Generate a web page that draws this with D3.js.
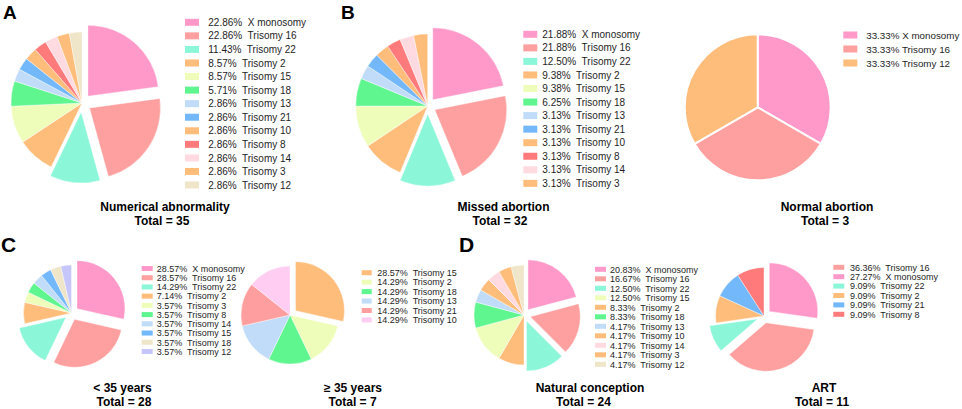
<!DOCTYPE html>
<html>
<head>
<meta charset="utf-8">
<script src="https://cdn.jsdelivr.net/npm/d3@7/dist/d3.min.js"></script>
<style>
  html, body { margin: 0; padding: 0; background: #fff; }
  svg { display: block; }
  text { font-family: 'Liberation Sans', Arial, Helvetica, sans-serif; }
</style>
</head>
<body>
<svg id="chart" width="962" height="409"></svg>
<script>
// ---------------- DATA (pie order, clockwise from 12 o'clock) ----------------
const numericalLabels = ["X monosomy","Trisomy 16","Trisomy 22","Trisomy 2","Trisomy 15","Trisomy 18","Trisomy 13","Trisomy 21","Trisomy 10","Trisomy 8","Trisomy 14","Trisomy 3","Trisomy 12"];
const numericalCounts = [8,8,4,3,3,2,1,1,1,1,1,1,1];
const numericalLegendOrder = [0,1,2,3,4,5,6,7,8,9,10,11,12];

const missedLabels = ["X monosomy","Trisomy 16","Trisomy 22","Trisomy 2","Trisomy 15","Trisomy 18","Trisomy 13","Trisomy 21","Trisomy 10","Trisomy 8","Trisomy 14","Trisomy 3"];
const missedCounts = [7,7,4,3,3,2,1,1,1,1,1,1];
const missedLegendOrder = [0,1,2,3,4,5,6,7,8,9,10,11];

const normalLabels = ["X monosomy","Trisomy 16","Trisomy 12"];
const normalCounts = [1,1,1];
const normalLegendOrder = [0,1,2];

const youngLabels = ["X monosomy","Trisomy 16","Trisomy 22","Trisomy 2","Trisomy 3","Trisomy 8","Trisomy 14","Trisomy 15","Trisomy 18","Trisomy 12"];
const youngCounts = [8,8,4,2,1,1,1,1,1,1];
const youngLegendOrder = [0,1,2,3,4,5,6,7,8,9];

const oldLabels = ["Trisomy 15","Trisomy 2","Trisomy 18","Trisomy 13","Trisomy 21","Trisomy 10"];
const oldCounts = [2,1,1,1,1,1];
const oldLegendOrder = [0,1,2,3,4,5];

const naturalLabels = ["X monosomy","Trisomy 16","Trisomy 22","Trisomy 2","Trisomy 15","Trisomy 18","Trisomy 13","Trisomy 10","Trisomy 14","Trisomy 3","Trisomy 12"];
const naturalCounts = [5,4,3,2,3,2,1,1,1,1,1];
const naturalLegendOrder = [0,1,2,4,3,5,6,7,8,9,10];

const artLabels = ["X monosomy","Trisomy 16","Trisomy 22","Trisomy 2","Trisomy 21","Trisomy 8"];
const artCounts = [3,4,1,1,1,1];
const artLegendOrder = [1,0,2,3,4,5];

const panelTitles = ["Numerical abnormality","Missed abortion","Normal abortion","< 35 years","\u2265 35 years","Natural conception","ART"];
const panelLetters = ["A","B","C","D"];

// ---------------- STYLES ----------------
const C = {
  pink:"#ff99c9", salmon:"#ffa0a0", teal:"#8cf6d9", orange:"#ffbd7b", yellow:"#effdbb",
  green:"#5ff58f", lblue:"#c0dcf8", blue:"#72b8fb", red:"#ff7a7a", lpink:"#ffdae1",
  beige:"#efe5c8", lav:"#c6c6fb", mpink:"#ffccf2", salmon2:"#ff9e9e"
};
const numericalColors = [C.pink,C.salmon,C.teal,C.orange,C.yellow,C.green,C.lblue,C.blue,C.orange,C.red,C.lpink,C.orange,C.beige];
const missedColors = numericalColors.slice(0,12);
const normalColors = [C.pink,C.salmon,C.orange];
const youngColors = [C.pink,C.salmon,C.teal,C.orange,C.yellow,C.green,C.lblue,C.blue,C.beige,C.lav];
const oldColors = [C.orange,C.yellow,C.green,C.lblue,C.salmon2,C.mpink];
const naturalColors = [C.pink,C.salmon,C.teal,C.orange,C.yellow,C.green,C.lblue,C.orange,C.lpink,C.orange,C.beige];
const artColors = [C.pink,C.salmon,C.teal,C.orange,C.blue,C.red];

const panels = [
  {labels:numericalLabels, counts:numericalCounts, order:numericalLegendOrder, colors:numericalColors,
   cx:82, cy:103, r:71, off:9, nExplode:3, stroke:0.4,
   leg:{sx:185, y0:22.3, dy:13.56, sw:14, sh:7, tx:208.3, fs:10, sep:"  "},
   title:panelTitles[0], tcx:165, tcx2:162, ty:211, ty2:225},
  {labels:missedLabels, counts:missedCounts, order:missedLegendOrder, colors:missedColors,
   cx:427.7, cy:106, r:72, off:8, nExplode:3, stroke:0.4,
   leg:{sx:523.3, y0:34.3, dy:13.55, sw:14, sh:7, tx:542.3, fs:10, sep:"  "},
   title:panelTitles[1], tcx:503.5, tcx2:500, ty:211, ty2:225},
  {labels:normalLabels, counts:normalCounts, order:normalLegendOrder, colors:normalColors,
   cx:757.7, cy:107.3, r:73, off:0, nExplode:0, stroke:2,
   leg:{sx:843.3, y0:35, dy:14, sw:14, sh:7, tx:866.2, fs:9.8, sep:" "},
   title:panelTitles[2], tcx:827, tcx2:825, ty:211, ty2:225},
  {labels:youngLabels, counts:youngCounts, order:youngLegendOrder, colors:youngColors,
   cx:71.5, cy:313, r:48, off:7, nExplode:3, stroke:0.4,
   leg:{sx:141.7, y0:268.5, dy:9.22, sw:11, sh:5, tx:156.7, fs:9, sep:"  "},
   title:panelTitles[3], tcx:122.5, tcx2:124, ty:392, ty2:406},
  {labels:oldLabels, counts:oldCounts, order:oldLegendOrder, colors:oldColors,
   cx:290, cy:315, r:49, off:7, nExplode:1, stroke:0.4,
   leg:{sx:361.7, y0:272.7, dy:9.45, sw:10, sh:5, tx:377.3, fs:9, sep:"  "},
   title:panelTitles[4], tcx:353, tcx2:352.5, ty:392, ty2:406},
  {labels:naturalLabels, counts:naturalCounts, order:naturalLegendOrder, colors:naturalColors,
   cx:524, cy:315, r:50, off:6.5, nExplode:3, stroke:0.4,
   leg:{sx:595, y0:269.3, dy:9.5, sw:11, sh:5, tx:610, fs:9, sep:"  "},
   title:panelTitles[5], tcx:590, tcx2:583.5, ty:392, ty2:406},
  {labels:artLabels, counts:artCounts, order:artLegendOrder, colors:artColors,
   cx:764, cy:316, r:48.5, off:7, nExplode:3, stroke:0.4,
   leg:{sx:833.3, y0:267.3, dy:9.4, sw:11, sh:5, tx:850, fs:9, sep:"  "},
   title:panelTitles[6], tcx:824, tcx2:822, ty:392, ty2:406}
];

const letterPos = [{x:3,y:19,fs:19},{x:341,y:19,fs:19},{x:1,y:252,fs:21},{x:459,y:252,fs:21}];

// ---------------- DRAW ----------------
const svg = d3.select("#chart");

panels.forEach(p => {
  const total = d3.sum(p.counts);
  const items = p.labels.map((l,i) => ({label:l, count:p.counts[i], color:p.colors[i], i}));
  const pie = d3.pie().value(d => d.count).sort(null).startAngle(0).endAngle(2*Math.PI);
  const arc = d3.arc().innerRadius(0).outerRadius(p.r);
  const g = svg.append("g").attr("transform", `translate(${p.cx},${p.cy})`);
  g.selectAll("path").data(pie(items)).join("path")
    .attr("d", arc)
    .attr("fill", d => d.data.color)
    .attr("stroke", "#fff")
    .attr("stroke-width", p.stroke)
    .attr("stroke-linejoin", "round")
    .attr("transform", d => {
      if (d.index >= p.nExplode) return null;
      const a = (d.startAngle + d.endAngle)/2;
      return `translate(${p.off*Math.sin(a)},${-p.off*Math.cos(a)})`;
    });

  // legend
  const L = p.leg;
  const lg = svg.append("g");
  p.order.forEach((idx, row) => {
    const y = L.y0 + row*L.dy;
    const it = items[idx];
    lg.append("rect").attr("x", L.sx).attr("y", y - L.sh/2).attr("width", L.sw).attr("height", L.sh)
      .attr("fill", it.color);
    const pct = (it.count/total*100).toFixed(2) + "%";
    lg.append("text").attr("x", L.tx).attr("y", y + L.fs*0.36)
      .style("white-space","pre")
      .attr("font-size", L.fs).attr("fill", "#1e1e1e")
      .text(pct + L.sep + it.label);
  });

  // titles
  svg.append("text").attr("x", p.tcx).attr("y", p.ty).attr("text-anchor","middle")
    .attr("font-size", 12).attr("font-weight","bold").attr("fill","#000").text(p.title);
  svg.append("text").attr("x", p.tcx2).attr("y", p.ty2).attr("text-anchor","middle")
    .attr("font-size", 12).attr("font-weight","bold").attr("fill","#000").text("Total = " + total);
});

panelLetters.forEach((t,i) => {
  svg.append("text").attr("x", letterPos[i].x).attr("y", letterPos[i].y)
    .attr("font-size", letterPos[i].fs).attr("font-weight","bold").attr("fill","#000").text(t);
});
</script>
</body>
</html>
